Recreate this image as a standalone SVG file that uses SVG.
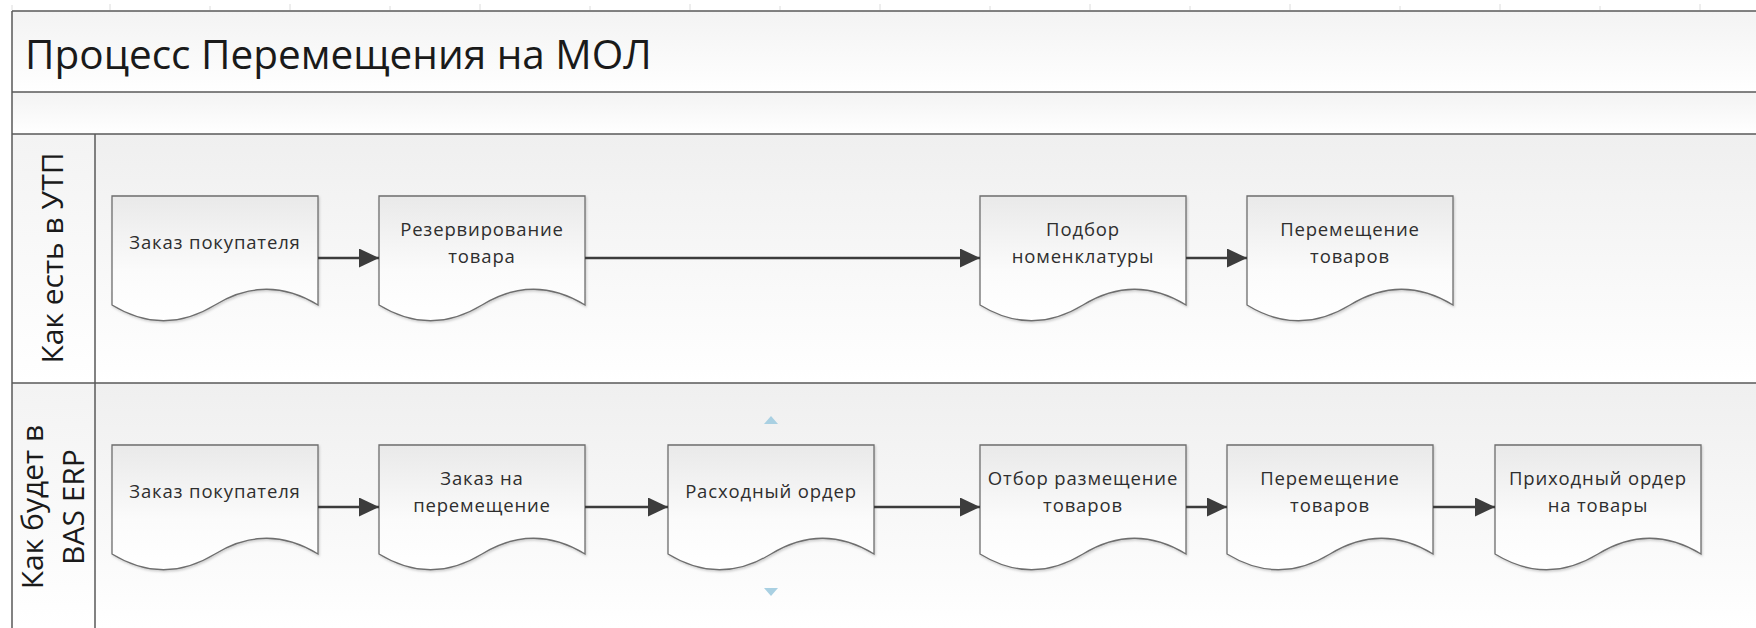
<svg xmlns="http://www.w3.org/2000/svg" width="1756" height="628" viewBox="0 0 1756 628">
  <style>
    .frame { stroke: #5a5a5a; stroke-width: 1.5; fill: none; }
    .box { fill: url(#boxGrad); stroke: #6e6e6e; stroke-width: 1.3; filter: url(#shadow); }
    .lbl { font-family: "Open Sans", "Noto Sans", sans-serif; font-size: 18.5px; fill: #2e2e2e; text-anchor: middle; letter-spacing: 0.85px; }
    .title { font-family: "Open Sans", "Noto Sans", sans-serif; font-size: 40.5px; fill: #1a1a1a; }
    .lane { font-family: "Open Sans", "Noto Sans", sans-serif; font-size: 30px; fill: #1a1a1a; }
    .conn { stroke: #3c3c3c; stroke-width: 2.5; fill: none; marker-end: url(#arrow); }
    .hint { fill: #a9d0e2; }
    .ruler { stroke: #dcdcdc; stroke-width: 1; fill: none; }
  </style>
  <defs>
    <linearGradient id="boxGrad" x1="0" y1="0" x2="0" y2="1">
      <stop offset="0" stop-color="#e9e9e9"/>
      <stop offset="0.6" stop-color="#fbfbfb"/>
      <stop offset="1" stop-color="#ffffff"/>
    </linearGradient>
    <linearGradient id="laneGrad" x1="0" y1="0" x2="0" y2="1">
      <stop offset="0" stop-color="#efefef"/>
      <stop offset="1" stop-color="#ffffff"/>
    </linearGradient>
    <linearGradient id="hdrGrad" x1="0" y1="0" x2="0" y2="1">
      <stop offset="0" stop-color="#f3f3f3"/>
      <stop offset="1" stop-color="#ffffff"/>
    </linearGradient>
    <filter id="shadow" x="-5%" y="-5%" width="115%" height="120%">
      <feDropShadow dx="1" dy="1.5" stdDeviation="1.2" flood-color="#000000" flood-opacity="0.18"/>
    </filter>
    <marker id="arrow" markerUnits="userSpaceOnUse" markerWidth="20" markerHeight="19" viewBox="0 0 20 19" refX="20" refY="9.5" orient="auto">
      <path d="M0,0 L20,9.5 L0,19 z" fill="#3c3c3c"/>
    </marker>
  </defs>

  <rect x="0" y="0" width="1756" height="628" fill="#ffffff"/>
  <path class="ruler" d="M12,10 V5 M110,10 V4 M210,10 V6 M290,10 V4 M390,10 V6 M480,10 V4 M590,10 V6 M690,10 V4 M780,10 V6 M880,10 V4 M990,10 V6 M1090,10 V4 M1190,10 V6 M1290,10 V4 M1400,10 V6 M1500,10 V4 M1600,10 V6 M1700,10 V4"/>

  <g id="pool">
    <rect x="12" y="11" width="1744" height="81" fill="url(#hdrGrad)"/>
    <rect x="12" y="92" width="1744" height="42" fill="url(#hdrGrad)"/>
    <rect x="12" y="134" width="83" height="249" fill="url(#hdrGrad)"/>
    <rect x="95" y="134" width="1661" height="249" fill="url(#laneGrad)"/>
    <rect x="12" y="383" width="83" height="245" fill="url(#hdrGrad)"/>
    <rect x="95" y="383" width="1661" height="245" fill="url(#laneGrad)"/>
    <path class="frame" d="M12,11 H1756 M12,92 H1756 M12,134 H1756 M12,383 H1756 M12,11 V628 M95,134 V628"/>
    <text class="title" x="25" y="69">Процесс Перемещения на МОЛ</text>
  </g>

  <g id="lane-utp">
    <text class="lane" transform="translate(63,258) rotate(-90)" text-anchor="middle">Как есть в УТП</text>
  </g>
  <g id="lane-bas">
    <text class="lane" transform="translate(43,507) rotate(-90)" text-anchor="middle">Как будет в</text>
    <text class="lane" transform="translate(84,507) rotate(-90)" text-anchor="middle">BAS ERP</text>
  </g>

  <g id="n1">
    <path class="box" d="M112,196 H318 V305 C283.7,284 249.3,284 215,305 C180.7,326 146.3,326 112,305 Z"/>
    <text class="lbl" x="215" y="249">Заказ покупателя</text>
  </g>
  <g id="n2">
    <path class="box" d="M379,196 H585 V305 C550.7,284 516.3,284 482,305 C447.7,326 413.3,326 379,305 Z"/>
    <text class="lbl" x="482" y="236">Резервирование</text>
    <text class="lbl" x="482" y="263">товара</text>
  </g>
  <g id="n3">
    <path class="box" d="M980,196 H1186 V305 C1151.7,284 1117.3,284 1083,305 C1048.7,326 1014.3,326 980,305 Z"/>
    <text class="lbl" x="1083" y="236">Подбор</text>
    <text class="lbl" x="1083" y="263">номенклатуры</text>
  </g>
  <g id="n4">
    <path class="box" d="M1247,196 H1453 V305 C1418.7,284 1384.3,284 1350,305 C1315.7,326 1281.3,326 1247,305 Z"/>
    <text class="lbl" x="1350" y="236">Перемещение</text>
    <text class="lbl" x="1350" y="263">товаров</text>
  </g>

  <g id="m1">
    <path class="box" d="M112,445 H318 V554 C283.7,533 249.3,533 215,554 C180.7,575 146.3,575 112,554 Z"/>
    <text class="lbl" x="215" y="498">Заказ покупателя</text>
  </g>
  <g id="m2">
    <path class="box" d="M379,445 H585 V554 C550.7,533 516.3,533 482,554 C447.7,575 413.3,575 379,554 Z"/>
    <text class="lbl" x="482" y="485">Заказ на</text>
    <text class="lbl" x="482" y="512">перемещение</text>
  </g>
  <g id="m3">
    <path class="box" d="M668,445 H874 V554 C839.7,533 805.3,533 771,554 C736.7,575 702.3,575 668,554 Z"/>
    <text class="lbl" x="771" y="498">Расходный ордер</text>
  </g>
  <g id="m4">
    <path class="box" d="M980,445 H1186 V554 C1151.7,533 1117.3,533 1083,554 C1048.7,575 1014.3,575 980,554 Z"/>
    <text class="lbl" x="1083" y="485">Отбор размещение</text>
    <text class="lbl" x="1083" y="512">товаров</text>
  </g>
  <g id="m5">
    <path class="box" d="M1227,445 H1433 V554 C1398.7,533 1364.3,533 1330,554 C1295.7,575 1261.3,575 1227,554 Z"/>
    <text class="lbl" x="1330" y="485">Перемещение</text>
    <text class="lbl" x="1330" y="512">товаров</text>
  </g>
  <g id="m6">
    <path class="box" d="M1495,445 H1701 V554 C1666.7,533 1632.3,533 1598,554 C1563.7,575 1529.3,575 1495,554 Z"/>
    <text class="lbl" x="1598" y="485">Приходный ордер</text>
    <text class="lbl" x="1598" y="512">на товары</text>
  </g>

  <g id="hints">
    <path class="hint" d="M764,424 L771,416 L778,424 Z"/>
    <path class="hint" d="M764,588 L778,588 L771,596 Z"/>
  </g>

  <g id="connectors">
    <path class="conn" d="M318,258 H379"/>
    <path class="conn" d="M585,258 H980"/>
    <path class="conn" d="M1186,258 H1247"/>
    <path class="conn" d="M318,507 H379"/>
    <path class="conn" d="M585,507 H668"/>
    <path class="conn" d="M874,507 H980"/>
    <path class="conn" d="M1186,507 H1227"/>
    <path class="conn" d="M1433,507 H1495"/>
  </g>
</svg>
